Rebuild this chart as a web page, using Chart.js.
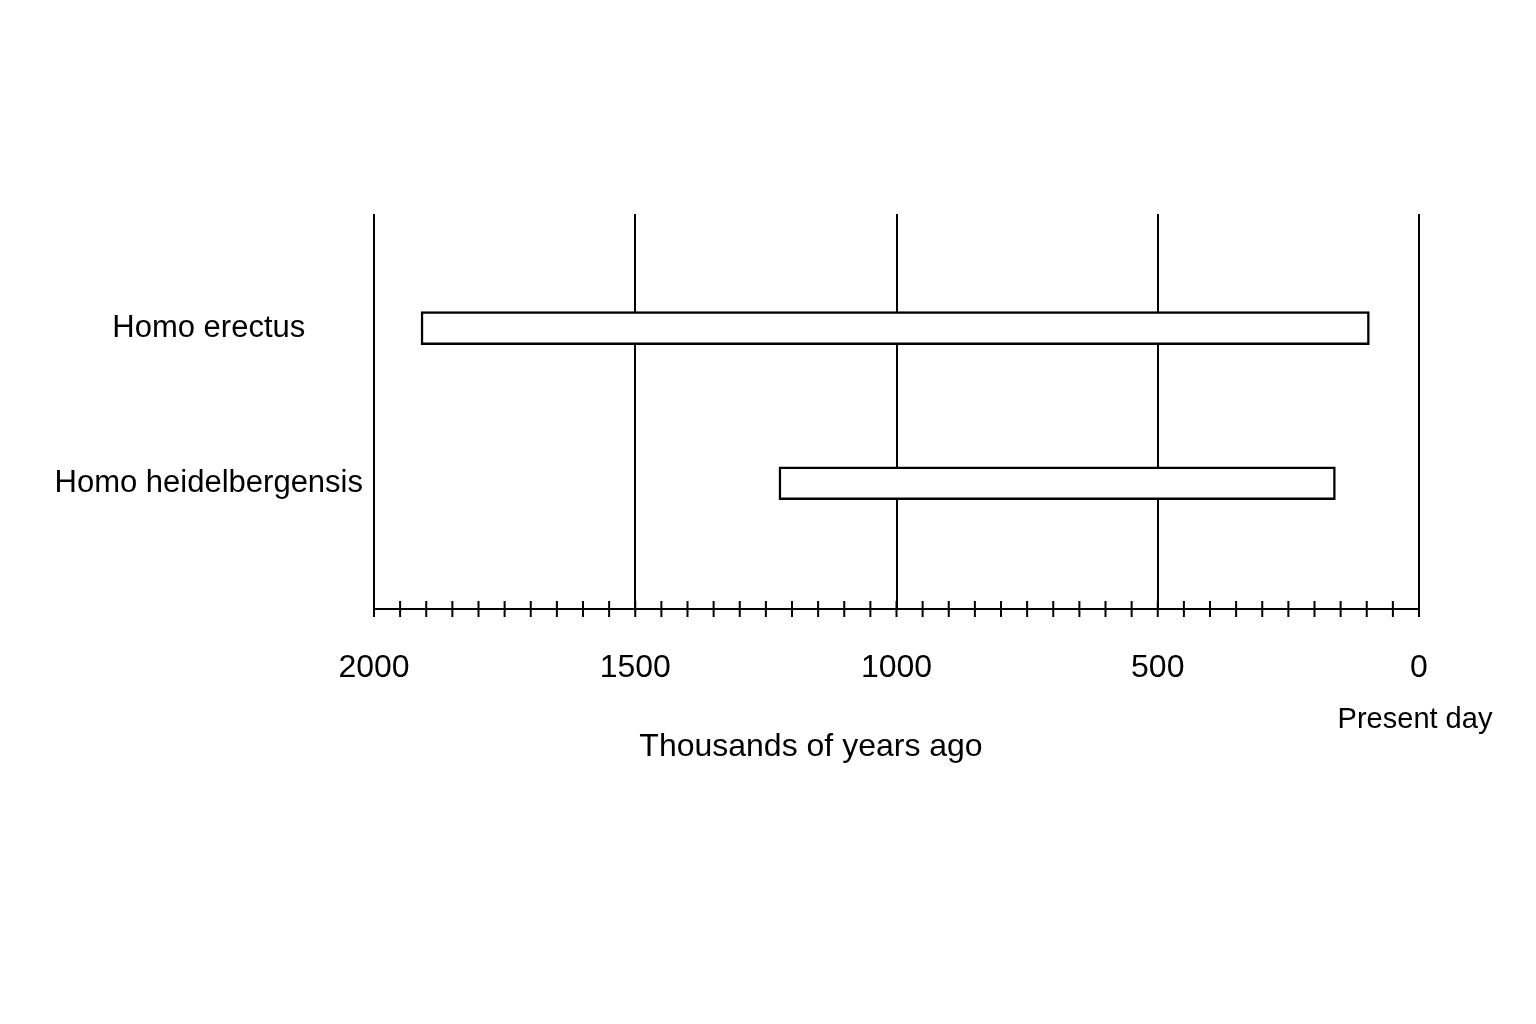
<!DOCTYPE html>
<html><head><meta charset="utf-8">
<script src="https://cdn.jsdelivr.net/npm/chart.js@4"></script>
<style>html,body{margin:0;background:#fff}</style>
</head><body>
<canvas id="c" width="1536" height="1024"></canvas>
<script>
const species = ['Homo erectus', 'Homo heidelbergensis'];
const startKya = [1910, 1225];
const endKya = [95, 160];
const majorTicks = [2000, 1500, 1000, 500, 0];
const xTitle = 'Thousands of years ago';
const presentLabel = 'Present day';

const FONT = "'Liberation Sans Narrow', 'Liberation Sans', Arial, sans-serif";

const extras = {
  id: 'extras',
  afterDraw(chart) {
    const ctx = chart.ctx, xs = chart.scales.x, a = chart.chartArea;
    ctx.save();
    ctx.strokeStyle = '#000'; ctx.lineWidth = 2;
    ctx.beginPath();
    ctx.moveTo(a.left, a.bottom); ctx.lineTo(a.right, a.bottom);
    for (let v = 0; v <= 2000; v += 50) {
      const px = xs.getPixelForValue(v);
      ctx.moveTo(px, a.bottom - 8); ctx.lineTo(px, a.bottom + 8);
    }
    ctx.stroke();
    ctx.fillStyle = '#000';
    ctx.font = '32px ' + FONT;
    ctx.textAlign = 'center'; ctx.textBaseline = 'middle';
    ctx.fillText(xTitle, 811, 747);
    ctx.font = '29px ' + FONT;
    ctx.fillText(presentLabel, xs.getPixelForValue(0) - 4, 720);
    ctx.restore();
  }
};

new Chart(document.getElementById('c'), {
  type: 'bar',
  data: {
    datasets: [{
      data: species.map((s, i) => ({ y: i + 1, x: [startKya[i], endKya[i]] })),
      backgroundColor: '#fff', borderColor: '#000', borderWidth: 2.5,
      borderSkipped: false, barThickness: 33
    }]
  },
  options: {
    indexAxis: 'y', responsive: false, animation: false,
    layout: { padding: { left: 20, right: 117, top: 214, bottom: 0 } },
    plugins: { legend: { display: false }, tooltip: { enabled: false } },
    scales: {
      x: {
        type: 'linear', reverse: true, min: 0, max: 2000,
        afterBuildTicks: s => { s.ticks = majorTicks.map(v => ({ value: v })); },
        grid: { color: '#000', lineWidth: 2, drawTicks: false },
        border: { display: false },
        ticks: { color: '#000', font: { size: 32, family: FONT }, padding: 40,
                 callback: v => String(v) },
        afterFit: s => { s.height = 415; }
      },
      y: {
        type: 'linear', reverse: true, min: 0.265, max: 2.81, offset: false,
        afterBuildTicks: s => { s.ticks = [{ value: 1 }, { value: 2 }]; },
        grid: { display: false },
        border: { display: false },
        ticks: { color: '#000', crossAlign: 'center', font: { size: 31, family: FONT },
                 callback: v => species[v - 1] || '' },
        afterFit: s => { s.width = 354; }
      }
    }
  },
  plugins: [extras, { id: 'bg', beforeDraw(c) { c.ctx.save(); c.ctx.fillStyle = '#fff'; c.ctx.fillRect(0, 0, c.width, c.height); c.ctx.restore(); } }]
});
</script>
</body></html>
